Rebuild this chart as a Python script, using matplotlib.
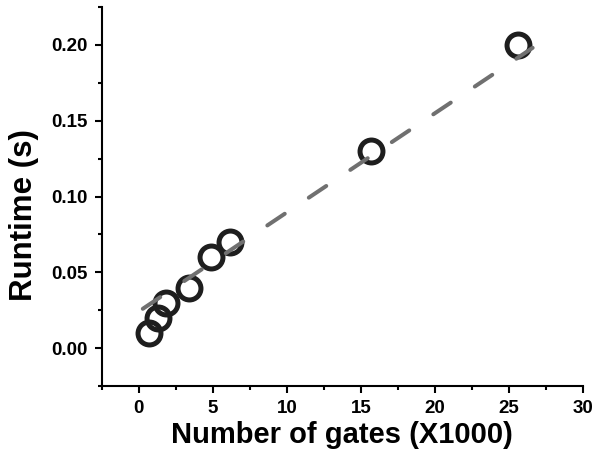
import matplotlib
matplotlib.use("Agg")
import matplotlib.pyplot as plt
from matplotlib.ticker import MultipleLocator

# measured points (gates in thousands, runtime in s)
gates = [0.72, 1.28, 1.85, 3.36, 4.89, 6.17, 15.67, 25.6]
runtime = [0.01, 0.02, 0.03, 0.04, 0.06, 0.07, 0.13, 0.20]

# linear fit line as drawn in the figure
fit_x = [0.27, 26.6]
fit_y = [0.026, 0.198]

plt.rcParams['font.family'] = ['Liberation Sans', 'DejaVu Sans']
plt.rcParams['font.weight'] = 'bold'

fig = plt.figure(figsize=(6.06, 4.57), dpi=100)
ax = fig.add_axes([0.168, 0.155, 0.794, 0.830])

ax.plot(gates, runtime, linestyle='none', marker='o', markersize=16.5,
        markerfacecolor='none', markeredgecolor='#1e1e1e', markeredgewidth=3.6,
        zorder=2)
line, = ax.plot(fit_x, fit_y, color='#707070', linewidth=2.9,
                solid_capstyle='round', dash_capstyle='round', zorder=3)
# dash sizes are scaled by linewidth
line.set_dashes([5.2, 7.2])

ax.set_xlim(-2.5, 30)
ax.set_ylim(-0.025, 0.225)
ax.xaxis.set_major_locator(MultipleLocator(5))
ax.xaxis.set_minor_locator(MultipleLocator(2.5))
ax.yaxis.set_major_locator(MultipleLocator(0.05))
ax.yaxis.set_minor_locator(MultipleLocator(0.025))
ax.set_xticks([0, 5, 10, 15, 20, 25, 30])
ax.set_yticks([0.0, 0.05, 0.10, 0.15, 0.20])
ax.set_yticklabels(['0.00', '0.05', '0.10', '0.15', '0.20'])

for s in ['top', 'right']:
    ax.spines[s].set_visible(False)
for s in ['left', 'bottom']:
    ax.spines[s].set_linewidth(1.5)

ax.tick_params(which='major', direction='out', length=5, width=1.5,
               labelsize=13.5, pad=5)
ax.tick_params(which='minor', direction='out', length=3, width=1.5)

ax.set_xlabel('Number of gates (X1000)', fontsize=21, fontweight='bold', labelpad=3)
ax.set_ylabel('Runtime (s)', fontsize=22.5, fontweight='bold')
ax.yaxis.set_label_coords(-0.13, 0.45)

fig.savefig('out.png', dpi=100)
